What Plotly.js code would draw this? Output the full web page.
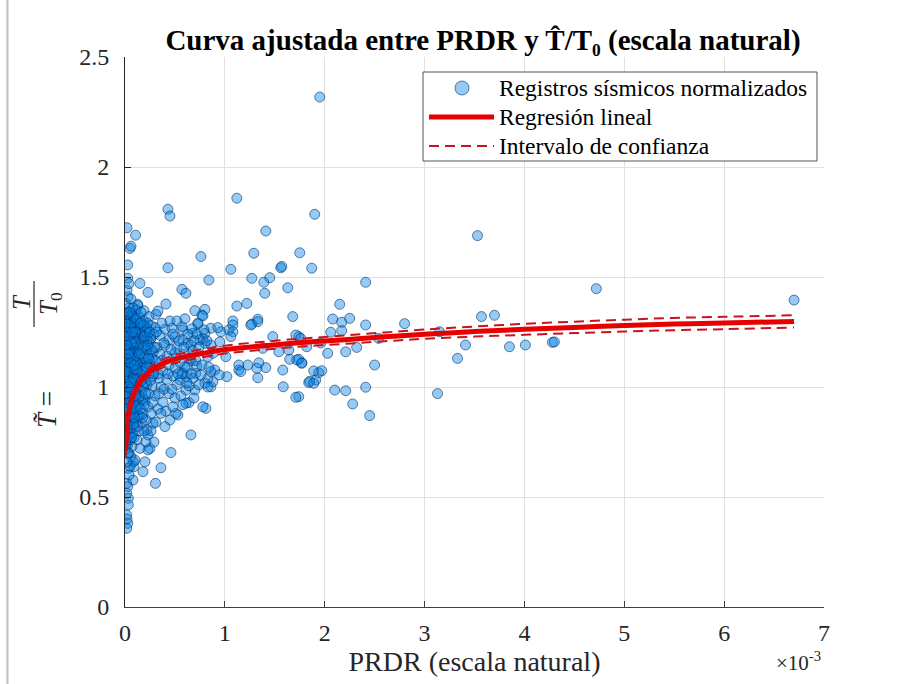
<!DOCTYPE html>
<html>
<head>
<meta charset="utf-8">
<script src="https://cdn.plot.ly/plotly-3.0.1.min.js"></script>
<style>html,body{margin:0;padding:0;background:#fff;}#chart{width:906px;height:684px;}</style>
</head>
<body>
<div id="chart"></div>
<script>
// ---------- DATA (PRDR in units of 1e-3) ----------
// sparse / individually readable records
const sparseX = [1.95,0.43,0.45,1.12,1.90,0.02,0.106,0.05,0.06,0.027,0.027,0.43,0.76,0.84,1.06,1.41,1.29,1.75,1.56,1.57,
  1.87,1.27,1.39,1.45,1.40,1.63,0.15,0.23,0.57,0.61,0.41,0.126,0.13,0.19,0.31,0.33,0.70,0.80,0.77,0.78,
  0.73,1.12,1.22,1.08,1.27,1.33,1.68,2.41,3.53,2.15,2.08,2.17,2.25,2.17,2.06,2.41,2.80,3.57,3.70,3.15,
  1.74,1.82,1.96,2.03,2.21,2.32,2.54,2.50,1.77,1.74,1.89,1.94,1.97,1.84,1.91,2.10,2.21,2.41,2.28,2.45,
  1.74,3.13,3.33,3.41,3.85,4.01,4.28,4.30,4.72,6.70];
const sparseY = [2.318,1.808,1.777,1.858,1.785,1.724,1.69,1.63,1.64,1.555,1.494,1.542,1.593,1.486,1.535,1.709,1.608,1.61,1.542,1.548,
  1.54,1.494,1.476,1.497,1.426,1.451,1.471,1.43,1.444,1.426,1.377,1.376,1.37,1.347,1.33,1.345,1.347,1.353,1.327,1.323,
  1.286,1.368,1.38,1.30,1.286,1.308,1.32,1.476,1.688,1.376,1.309,1.294,1.312,1.256,1.249,1.282,1.288,1.32,1.326,1.251,
  1.229,1.183,1.20,1.153,1.16,1.18,1.221,1.10,1.11,1.126,1.073,1.065,1.074,1.02,1.032,0.986,0.983,0.999,0.923,0.87,
  0.956,0.97,1.13,1.191,1.183,1.191,1.203,1.205,1.447,1.395];

// records in the medium-density zone (0.1e-3 .. 1.9e-3)
const midX = [0.66,0.46,0.36,0.305,0.18,0.20,0.25,0.09,0.08,0.10,0.06,0.45,0.53,0.81,0.78,0.64,0.23,0.22,0.28,0.17,
  1.71,1.585,1.58,1.33,1.32,1.41,1.14,1.23,1.85,1.65,1.72,1.77,1.02,0.86,0.88,0.80,0.70,0.83,0.90,1.89,
  0.73,0.86,0.96,1.04,1.08,1.26,1.33,1.48,1.71,1.76,0.78,0.80,0.58,0.68,0.80,1.08,1.06,1.38,1.54,1.64,
  1.14,1.34,1.16,0.58,0.63,0.75,0.86,0.88,0.83,1.01,0.86,0.58,0.61,0.68,0.71,0.76,0.83,0.61,0.61,0.60,
  0.55,0.945,0.51,0.23,0.15,0.083,0.033,0.017,0.027,0.017,0.033,0.033,0.017,0.027,0.017,0.02,0.04,0.05,0.02,0.04,
  0.067,0.22,0.30,0.40,0.47,0.57,0.67,0.93,0.17,0.26,0.35,0.44,0.50,0.66,0.72,0.95,0.40,0.32,0.52,0.25,
  0.30,0.38,0.44,0.50,0.55,0.66,0.72,0.34,0.42,0.48,0.52,0.36,0.44,0.50,0.30,0.38,0.27,0.33,0.41,0.56,
  0.64,0.28,0.42,0.35,0.60,0.50,0.68,0.28,
  0.33,0.37,0.39,0.43,0.46,0.48,0.51,0.54,0.57,0.59,0.62,0.63,0.65,0.69,0.71,0.74,0.77,0.79,0.82,0.84,
  0.34,0.39,0.47,0.53,0.58,0.62,0.66,0.74,0.69,0.37,0.45,0.52,0.60,0.40,0.36,0.48,0.31,0.26,0.29,0.21];
const midY = [0.782,0.702,0.633,0.562,0.615,0.66,0.721,0.638,0.577,0.668,0.683,0.85,0.873,0.903,0.91,0.929,0.782,0.805,0.835,0.835,
  0.953,1.001,1.077,1.042,1.085,1.088,1.077,1.10,1.026,1.126,1.123,1.108,1.047,1.001,1.024,1.017,0.986,1.04,1.077,1.017,
  1.29,1.267,1.251,1.259,1.282,1.282,1.297,1.229,1.236,1.221,1.221,1.198,1.259,1.244,1.244,1.251,1.229,1.176,1.16,1.168,
  1.10,1.11,1.07,1.214,1.199,1.214,1.191,1.153,1.138,1.138,1.07,1.062,1.047,1.04,1.062,1.055,1.00,0.986,0.926,1.092,
  1.032,1.055,0.88,0.714,0.721,0.66,0.63,0.562,0.547,0.517,0.494,0.464,0.418,0.38,0.358,0.40,0.60,0.64,0.66,0.70,
  1.335,1.265,1.27,1.262,1.268,1.275,1.265,1.27,1.23,1.22,1.235,1.215,1.228,1.19,1.24,1.205,1.19,1.18,1.18,1.12,
  1.09,1.075,1.10,1.085,1.11,1.12,1.095,1.04,1.035,1.05,1.01,1.00,0.97,0.95,0.96,0.93,1.005,0.90,0.89,0.96,
  1.005,1.05,1.14,1.15,1.15,1.155,1.165,1.16,
  1.06,1.12,1.20,1.06,1.17,1.24,1.13,1.21,1.06,1.18,1.09,1.24,1.13,1.21,1.12,1.18,1.10,1.26,1.21,1.09,
  0.97,0.99,0.99,1.06,0.92,1.02,1.06,1.01,0.95,1.29,1.30,1.30,1.31,0.82,0.88,0.91,0.84,0.80,0.75,0.75];

// records in the dense column next to PRDR = 0
const denseX = [0.01,0.03,0.02,0.04,0.01,0.03,0.05,0.02,0.04,0.01,0.03,0.05,0.02,0.04,0.01,0.03,0.05,0.02,0.04,0.01,
  0.03,0.05,0.02,0.04,0.01,0.03,0.05,0.02,0.04,0.01,0.03,0.02,0.04,
  0.07,0.09,0.06,0.08,0.10,0.07,0.09,0.06,0.08,0.10,0.07,0.09,0.06,0.08,0.10,0.07,0.09,0.06,0.08,0.10,0.07,
  0.12,0.14,0.11,0.15,0.13,0.16,0.12,0.14,0.11,0.16,0.13,0.15,0.12,0.14,0.16,0.11,0.13,0.15,0.12,0.14,
  0.19,0.21,0.18,0.23,0.20,0.17,0.22,0.19,0.24,0.18,0.21,0.23,0.17,0.20,0.24,0.18,0.22,0.19,0.24,
  0.02,0.03,0.01,0.04,0.02,0.03,0.01,0.05,0.06,0.05,0.07,0.06,0.05,0.09,0.10,0.09,0.11,0.13,0.12,0.14,
  0.16,0.18,0.20,0.22,0.26,0.27,0.26,0.29,
  0.015,0.035,0.025,0.045,0.015,0.035,0.025,0.045,0.015,0.035,0.075,0.085,0.065,0.095,0.075,0.085,0.065,0.095,0.075,0.085,
  0.125,0.135,0.115,0.145,0.125,0.135,0.115,0.145,0.125,0.135,0.175,0.195,0.185,0.205,0.175,0.195,0.215,0.185,0.205,0.225,
  0.235,0.255,0.245,0.265,0.255,0.275,0.285,0.295,0.305,0.315,0.01,0.03,0.02,0.04,0.06,0.08,0.11,0.16,0.01,0.03,
  0.005,0.025,0.045,0.065,0.085,0.105,0.005,0.025,0.045,0.065,0.085,0.105,0.005,0.025,0.045,0.065,0.085,0.105,
  0.005,0.025,0.045,0.065,0.085,0.105,0.005,0.025,0.045,0.065,0.085,0.105,0.005,0.025,0.045,0.065,0.085,0.105,
  0.015,0.035,0.055,0.075,0.095,0.115,0.015,0.035,0.055,0.075,0.095,0.115,
  0.155,0.165,0.175,0.185,0.205,0.215,0.225,0.145,0.155,0.195,0.235,0.245];
const denseY = [0.72,0.74,0.76,0.78,0.80,0.82,0.84,0.86,0.88,0.90,0.92,0.94,0.96,0.98,1.00,1.02,1.04,1.06,1.08,1.10,
  1.12,1.14,1.16,1.18,1.20,1.22,1.24,1.26,1.28,1.30,1.32,1.34,1.36,
  0.73,0.77,0.81,0.85,0.89,0.92,0.95,0.99,1.01,1.05,1.07,1.10,1.13,1.15,1.18,1.21,1.23,1.26,1.29,1.31,1.33,
  0.76,0.80,0.84,0.87,0.91,0.94,0.97,1.00,1.03,1.06,1.09,1.12,1.14,1.17,1.20,1.22,1.25,1.28,1.30,1.32,
  0.80,0.85,0.88,0.91,0.94,0.98,1.01,1.04,1.06,1.09,1.11,1.14,1.15,1.18,1.20,1.24,1.27,1.30,1.32,
  0.79,0.87,0.95,1.03,1.11,1.19,1.27,0.76,0.86,0.97,1.03,1.17,1.31,0.82,0.98,1.16,1.27,0.87,1.06,1.22,
  1.10,0.95,1.08,1.22,0.88,1.13,1.28,1.24,
  0.83,0.89,0.93,0.99,1.05,1.09,1.15,1.21,1.25,1.29,0.79,0.88,0.93,1.02,1.12,1.19,1.24,1.27,0.97,1.08,
  0.82,0.95,1.00,1.04,1.11,1.19,1.16,1.26,0.92,1.29,0.86,0.92,1.00,1.02,1.07,1.13,1.17,1.21,1.25,1.29,
  0.97,1.03,1.10,1.17,1.22,0.93,1.06,1.18,1.12,1.25,1.38,1.41,1.44,1.47,1.40,1.36,1.35,1.34,0.74,0.70,
  0.75,0.81,0.87,0.77,0.83,0.91,0.85,0.97,0.93,0.99,0.93,1.03,0.97,1.04,1.07,1.09,1.04,1.12,
  1.07,1.13,1.17,1.15,1.22,1.20,1.17,1.23,1.27,1.29,1.32,1.25,1.29,1.33,1.34,1.20,1.13,0.96,
  0.90,1.00,1.11,1.25,0.86,1.08,1.19,1.15,1.02,0.90,1.10,1.31,
  0.90,1.03,1.18,1.28,0.97,1.09,1.19,1.15,1.29,1.23,1.13,1.25];

// fitted curve and confidence interval
const fitX   = [0.005,0.02,0.03,0.05,0.08,0.12,0.18,0.25,0.35,0.45,0.6,0.8,1.0,1.4,1.8,2.2,2.6,3.0,3.5,4.0,4.5,5.0,5.5,6.0,6.7];
const fitY   = [0.71,0.80,0.86,0.91,0.96,1.00,1.04,1.07,1.10,1.12,1.138,1.155,1.17,1.188,1.203,1.215,1.228,1.24,1.252,1.262,1.271,1.279,1.286,1.291,1.298];
const ciUp   = [0.74,0.83,0.89,0.935,0.98,1.02,1.058,1.088,1.118,1.138,1.156,1.173,1.188,1.206,1.221,1.234,1.248,1.261,1.275,1.287,1.297,1.306,1.314,1.319,1.326];
const ciLow  = [0.68,0.77,0.83,0.885,0.94,0.98,1.022,1.052,1.082,1.102,1.12,1.137,1.152,1.17,1.185,1.196,1.208,1.219,1.229,1.237,1.245,1.252,1.258,1.263,1.27];

const xTicks = [0,1,2,3,4,5,6,7];
const yTicks = [0,0.5,1,1.5,2,2.5];
const legendNames = ['Registros sísmicos normalizados', 'Regresión lineal', 'Intervalo de confianza'];

// ---------- PLOT ----------
const allX = sparseX.concat(midX, denseX);
const allY = sparseY.concat(midY, denseY);

const L = 125, R = 824, T = 57, B = 607, W = 906, H = 684;
const px2x = p => (p - L) / (R - L);
const py2y = p => (B - p) / (B - T);
const serif = '"Liberation Serif","Times New Roman",serif';
const ptFill = 'rgba(0,128,230,0.42)', ptEdge = 'rgba(0,50,105,0.6)';
const fitCol = 'rgb(230,0,0)', ciCol = 'rgb(200,20,30)', ciDash = '10px,6px';

const traces = [
  {x: allX, y: allY, type: 'scatter', mode: 'markers', name: legendNames[0],
   marker: {size: 10, color: ptFill, line: {color: ptEdge, width: 1}}},
  {x: fitX, y: fitY, type: 'scatter', mode: 'lines', name: legendNames[1],
   line: {color: fitCol, width: 5, shape: 'spline'}},
  {x: fitX, y: ciUp, type: 'scatter', mode: 'lines', name: legendNames[2],
   line: {color: ciCol, width: 2, dash: ciDash, shape: 'spline'}},
  {x: fitX, y: ciLow, type: 'scatter', mode: 'lines', name: legendNames[2],
   line: {color: ciCol, width: 2, dash: ciDash, shape: 'spline'}}
];

// legend box (drawn by hand to match the compact MATLAB legend)
const lgL = 423, lgR = 817, lgT = 72, lgB = 161, rowY = [88, 117, 146], smpL = 429, smpR = 494, txtX = 497;

const layout = {
  width: W, height: H,
  margin: {l: L, r: W - R, t: T, b: H - B, pad: 0},
  paper_bgcolor: '#fff', plot_bgcolor: '#fff',
  font: {family: serif, size: 24, color: '#262626'},
  showlegend: false,
  title: {text: '<b>Curva ajustada entre PRDR y T̂/T₀ (escala natural)</b>',
          font: {family: serif, size: 29, color: '#000'},
          xref: 'container', yref: 'container', x: 483 / W, y: 1 - 40 / H, xanchor: 'center', yanchor: 'middle'},
  xaxis: {range: [0, 7], tickvals: xTicks, ticktext: xTicks.map(String), ticks: 'inside', ticklen: 6, tickcolor: '#404040',
          showline: true, linecolor: '#404040', linewidth: 1, mirror: false, zeroline: false,
          showgrid: true, gridcolor: '#e0e0e0', gridwidth: 1, ticklabelstandoff: 4,
          tickfont: {family: serif, size: 24, color: '#262626'},
          title: {text: 'PRDR (escala natural)', font: {family: serif, size: 28, color: '#262626'}, standoff: 6}},
  yaxis: {range: [0, 2.5], tickvals: yTicks, ticktext: yTicks.map(String), ticks: 'inside', ticklen: 6, tickcolor: '#262626',
          showline: true, linecolor: '#262626', linewidth: 1, mirror: false, zeroline: false,
          showgrid: true, gridcolor: '#e0e0e0', gridwidth: 1, ticklabelstandoff: 10,
          tickfont: {family: serif, size: 24, color: '#262626'}},
  annotations: [
    {xref: 'paper', yref: 'paper', x: px2x(47), y: py2y(410), xanchor: 'center', yanchor: 'middle',
     text: '<i>T̃</i>\u00a0=', showarrow: false, textangle: -90, font: {family: serif, size: 27, color: '#262626'}},
    {xref: 'paper', yref: 'paper', x: px2x(21), y: py2y(302), xanchor: 'center', yanchor: 'middle',
     text: '<i>T</i>', showarrow: false, textangle: -90, font: {family: serif, size: 25, color: '#262626'}},
    {xref: 'paper', yref: 'paper', x: px2x(50), y: py2y(304), xanchor: 'center', yanchor: 'middle',
     text: '<i>T</i><sub>0</sub>', showarrow: false, textangle: -90, font: {family: serif, size: 25, color: '#262626'}},
    {xref: 'paper', yref: 'paper', x: px2x(823), y: py2y(661), xanchor: 'right', yanchor: 'middle',
     text: '×10<sup>-3</sup>', showarrow: false, font: {family: serif, size: 21, color: '#262626'}}
  ].concat(legendNames.map((n, i) => ({
     xref: 'paper', yref: 'paper', x: px2x(txtX), y: py2y(rowY[i]), xanchor: 'left', yanchor: 'middle',
     text: n, showarrow: false, font: {family: serif, size: 23.5, color: '#000'}}))),
  shapes: [
    {type: 'line', xref: 'paper', yref: 'paper', x0: px2x(34), x1: px2x(34), y0: py2y(281), y1: py2y(327),
     line: {color: '#262626', width: 1.2}},
    {type: 'line', xref: 'paper', yref: 'paper', x0: px2x(7.5), x1: px2x(7.5), y0: py2y(H), y1: py2y(0),
     line: {color: '#c0c0c0', width: 2}},
    {type: 'rect', xref: 'paper', yref: 'paper', x0: px2x(lgL), x1: px2x(lgR), y0: py2y(lgB), y1: py2y(lgT),
     fillcolor: '#fff', line: {color: '#555', width: 1}},
    {type: 'circle', xref: 'paper', yref: 'paper', x0: px2x(455), x1: px2x(469), y0: py2y(rowY[0] + 7), y1: py2y(rowY[0] - 7),
     fillcolor: ptFill, line: {color: ptEdge, width: 1}},
    {type: 'line', xref: 'paper', yref: 'paper', x0: px2x(smpL), x1: px2x(smpR), y0: py2y(rowY[1]), y1: py2y(rowY[1]),
     line: {color: fitCol, width: 5}},
    {type: 'line', xref: 'paper', yref: 'paper', x0: px2x(smpL), x1: px2x(smpR), y0: py2y(rowY[2]), y1: py2y(rowY[2]),
     line: {color: ciCol, width: 2, dash: ciDash}}
  ]
};

Plotly.newPlot('chart', traces, layout, {displayModeBar: false, staticPlot: true});
</script>
</body>
</html>
